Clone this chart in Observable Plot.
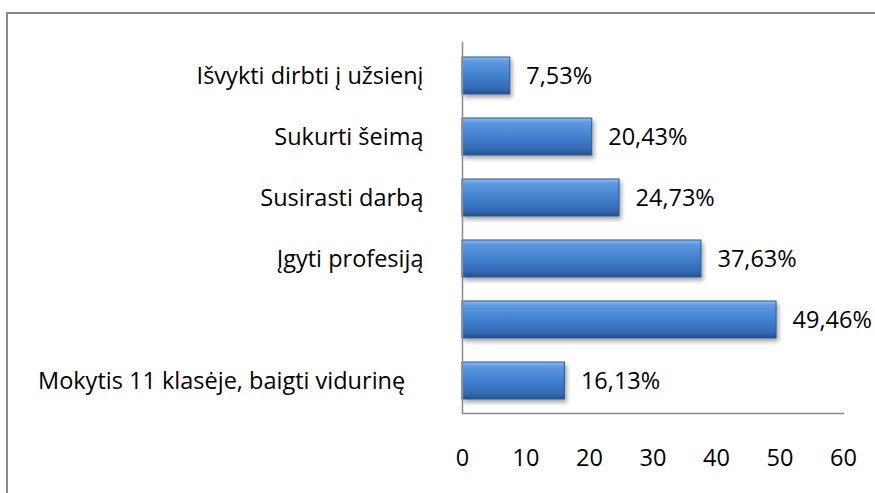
<!DOCTYPE html>
<html>
<head>
<meta charset="utf-8">
<script src="https://cdn.jsdelivr.net/npm/d3@7"></script>
<script src="https://cdn.jsdelivr.net/npm/@observablehq/plot@0.6"></script>
<style>
  html, body { margin: 0; padding: 0; background: #fff; }
  #wrap { position: relative; width: 875px; height: 493px; overflow: hidden; }
  #frame { position: absolute; left: 6px; top: 12px; width: 2000px; height: 2000px;
           border-top: 2px solid #8a8a8a; border-left: 2px solid #8a8a8a; pointer-events: none; }
  #chart { position: absolute; left: 0; top: 0; }
</style>
</head>
<body>
<div id="wrap"><div id="frame"></div><div id="chart"></div></div>
<script>
const categories = ["Išvykti dirbti į užsienį", "Sukurti šeimą", "Susirasti darbą", "Įgyti profesiją", "", "Mokytis 11 klasėje, baigti vidurinę\u00a0\u00a0\u00a0"];
const values = [7.53, 20.43, 24.73, 37.63, 49.46, 16.13];
const xTicks = [0, 10, 20, 30, 40, 50, 60];

const data = categories.map((c, i) => ({key: i, label: c, value: values[i]}));
const fmt = v => d3.format(".2f")(v).replace(".", ",") + "%";

const defs = () => {
  const g = d3.create("svg:defs");
  const lg = g.append("linearGradient").attr("id", "barGrad").attr("x1", 0).attr("y1", 0).attr("x2", 0).attr("y2", 1);
  [[0, "#8fbdf0"], [0.12, "#5f99e0"], [0.5, "#4281cf"], [0.85, "#3469b4"], [1, "#234f8c"]].forEach(([o, c]) =>
    lg.append("stop").attr("offset", o).attr("stop-color", c));
  const f = g.append("filter").attr("id", "shadow").attr("x", "-10%").attr("y", "-20%").attr("width", "130%").attr("height", "160%");
  f.append("feDropShadow").attr("dx", 2).attr("dy", 3).attr("stdDeviation", 2).attr("flood-color", "#000").attr("flood-opacity", 0.35);
  return g.node();
};

const chart = Plot.plot({
  width: 875,
  height: 493,
  marginLeft: 462,
  marginRight: 32,
  marginTop: 42,
  marginBottom: 80,
  style: {fontFamily: "'Open Sans', sans-serif", fontSize: "23.5px", color: "#000", background: "transparent"},
  x: {domain: [0, 60], ticks: xTicks, tickSize: 0, tickPadding: 36, label: null},
  y: {domain: d3.range(categories.length), tickFormat: i => categories[i], tickSize: 0, tickPadding: 39, paddingInner: 0.4, paddingOuter: 0.2, label: null},
  marks: [
    defs,
    Plot.barX(data, {x: "value", y: "key", fill: "url(#barGrad)", stroke: "#2a5996", strokeWidth: 1}),
    Plot.text(data, {x: "value", y: "key", text: d => fmt(d.value), textAnchor: "start", dx: 16, fill: "#000", fontSize: 23.5}),
    Plot.ruleX([0], {stroke: "#8a8a8a", strokeWidth: 1.5}),
    Plot.frame({anchor: "bottom", stroke: "#8a8a8a", strokeWidth: 1.5})
  ]
});
d3.select(chart).selectAll("g[aria-label='bar']").attr("filter", "url(#shadow)");
document.getElementById("chart").appendChild(chart);
</script>
</body>
</html>
